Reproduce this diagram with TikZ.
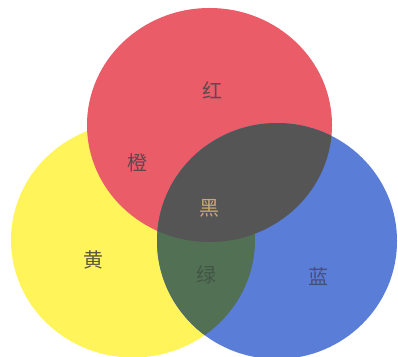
\documentclass[tikz,border=0pt]{standalone}
\usepackage{fontspec}
\newfontfamily\cjk{Noto Sans CJK SC}
\definecolor{cred}{RGB}{233,92,104}
\definecolor{cyellow}{RGB}{255,244,90}
\definecolor{cblue}{RGB}{90,125,216}
\definecolor{cgray}{RGB}{85,85,85}
\definecolor{cgreen}{RGB}{82,112,84}
\definecolor{tred}{RGB}{95,72,78}
\definecolor{tyel}{RGB}{90,88,62}
\definecolor{tgreen}{RGB}{66,86,70}
\definecolor{tblue}{RGB}{70,78,125}
\definecolor{tblack}{RGB}{200,168,112}
\tikzset{
  lbl/.style={font=\cjk\fontsize{20pt}{20pt}\selectfont, inner sep=0pt},
}
\begin{document}
\begin{tikzpicture}[x=1pt,y=1pt]
\useasboundingbox (0,0) rectangle (398,356);
\fill[white] (0,0) rectangle (398,356);
% circles
\fill[cyellow] (133,116) ellipse [x radius=122, y radius=117.5];
\fill[cred] (209.5,231) ellipse [x radius=122.5, y radius=117];
\fill[cblue] (277,115) ellipse [x radius=120, y radius=118];
\begin{scope}
  \clip (277,115) ellipse [x radius=120, y radius=118];
  \fill[cgreen] (133,116) ellipse [x radius=122, y radius=117.5];
  \fill[cgray] (209.5,231) ellipse [x radius=122.5, y radius=117];
\end{scope}
% labels
\node[lbl, text=tred] (hong) at (212,266) {红};
\node[lbl, text=tred] (cheng) at (137,193) {橙};
\node[lbl, text=tblack] (hei) at (209,148) {黑};
\node[lbl, text=tyel] (huang) at (93,96) {黄};
\node[lbl, text=tgreen] (lv) at (206,81) {绿};
\node[lbl, text=tblue] (lan) at (318,79) {蓝};
\end{tikzpicture}
\end{document}
